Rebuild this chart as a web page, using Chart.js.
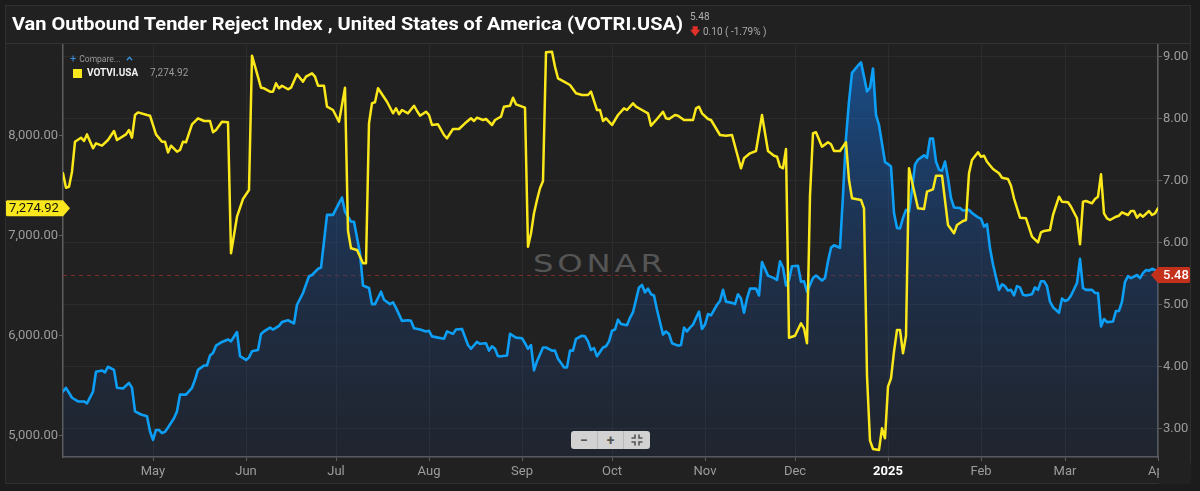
<!DOCTYPE html>
<html>
<head>
<meta charset="utf-8">
<script src="https://cdn.jsdelivr.net/npm/chart.js@4.4.1/dist/chart.umd.min.js"></script>
<style>
  html,body{margin:0;padding:0;background:#1c1c1c;width:1200px;height:491px;overflow:hidden;font-family:Roboto,"Noto Sans",sans-serif;}
  #wrap{position:relative;width:1200px;height:491px;}
  .abs{position:absolute;}
  #panel{left:5px;top:5px;width:1186px;height:479px;border:1px solid #303030;background:#212121;box-sizing:border-box;}
  #sep{left:6px;top:43px;width:1185px;height:1px;background:#333;}
  #wm{left:533px;top:247px;font-family:"DejaVu Sans",Roboto,sans-serif;font-weight:400;font-size:25px;color:#555;letter-spacing:3px;white-space:nowrap;transform-origin:0 50%;line-height:34px;}
  #cbox{left:0;top:0;width:1200px;height:491px;}
  #title{left:12px;top:12px;font-weight:700;font-size:17.5px;color:#fff;white-space:nowrap;transform-origin:0 50%;line-height:24px;}
  #chg1{left:690px;top:11px;font-size:10px;color:#b0b0b0;}
  #chg2{left:690px;top:24px;font-size:10px;color:#aaa;white-space:nowrap;}
  #chg2 b{color:#e0302a;font-weight:700;margin-right:3px;}
  #cmp{left:70px;top:52px;font-size:8.5px;color:#9a9a9a;white-space:nowrap;display:flex;align-items:center;gap:3px;height:13px;}
  #cmp .bl{color:#3a8fde;font-size:11px;}
  #sq{left:73px;top:69px;width:9px;height:9px;background:#f8e71c;}
  #lg1{left:87px;top:67px;font-size:10px;font-weight:700;color:#f2f2f2;white-space:nowrap;}
  #lg2{left:150px;top:67px;font-size:10px;color:#9a9a9a;white-space:nowrap;}
  #zc{left:571px;top:431px;width:79px;height:18px;background:#d2d2d2;border-radius:3px;display:flex;}
  #zc div{flex:1;display:flex;align-items:center;justify-content:center;color:#555;font-weight:700;font-size:14px;line-height:18px;}
  #zc div+div{border-left:1px solid #b8b8b8;}
</style>
</head>
<body>
<div id="wrap">
  <div id="panel" class="abs"></div>
  <div id="sep" class="abs"></div>
  <div id="wm" class="abs">SONAR</div>
  <div id="cbox" class="abs"><canvas id="c"></canvas></div>
  <div id="title" class="abs">Van Outbound Tender Reject Index , United States of America (VOTRI.USA)</div>
  <div id="chg1" class="abs">5.48</div>
  <div id="chg2" class="abs"><b>&#129095;</b>0.10 ( -1.79% )</div>
  <div id="cmp" class="abs"><span class="bl">+</span><span>Compare...</span>
    <svg width="7" height="5" viewBox="0 0 7 5" style="margin-left:2px"><path d="M0.8 4.2L3.5 1.3L6.2 4.2" fill="none" stroke="#3a8fde" stroke-width="1.3"/></svg></div>
  <div id="sq" class="abs"></div>
  <div id="lg1" class="abs">VOTVI.USA</div>
  <div id="lg2" class="abs">7,274.92</div>
  <div id="zc" class="abs">
    <div>&minus;</div><div>+</div>
    <div><svg width="12" height="12" viewBox="0 0 12 12" fill="none" stroke="#555" stroke-width="1.6">
      <path d="M4 0.5V4H0.5M8 0.5V4H11.5M4 11.5V8H0.5M8 11.5V8H11.5"/></svg></div>
  </div>
</div>
<script>
// ---- Data (day offsets counted from 2024-04-01) ----
const votviDays = [0,1,2,3,4,6,7,8,10,11,13,15,17,18,21,22,23,24,25,28,29,31,33,34,35,36,38,39,40,41,43,45,47,49,50,51,53,55,56,58,60,62,63,66,67,69,70,71,72,73,75,76,78,80,81,83,84,85,87,88,90,92,94,95,96,98,100,101,102,103,104,105,108,110,111,112,113,115,117,118,119,121,122,123,125,127,128,130,132,134,136,137,138,140,141,143,144,146,147,149,150,151,154,155,156,157,158,159,160,161,163,164,165,167,169,171,173,175,176,178,179,180,181,183,185,187,188,190,191,193,195,196,198,200,201,202,204,205,207,210,211,212,213,215,216,219,221,223,226,227,229,231,233,235,237,238,239,240,241,242,244,246,247,248,249,250,251,253,255,256,257,259,261,262,263,266,267,268,269,270,272,273,274,275,276,277,278,279,280,281,282,283,285,287,288,290,291,293,295,297,298,300,301,302,303,305,306,307,308,310,312,313,315,316,317,319,321,323,325,326,327,329,330,332,333,335,336,338,339,340,341,343,344,345,346,347,348,349,351,352,353,355,356,357,358,359,360,362,363,364,365];
const votviValues = [7624,7480,7490,7640,7940,7980,7947,8013,7874,7924,7900,7957,8047,7957,8013,8057,7980,8207,8233,8207,8200,8013,7940,7940,7833,7900,7840,7857,7940,7934,8114,8174,8147,8147,8034,8057,8140,8134,6824,7190,7367,7457,8800,8480,8474,8440,8440,8524,8474,8500,8464,8480,8614,8540,8590,8624,8590,8500,8500,8290,8257,8140,8480,7050,6874,6857,6724,6724,8124,8324,8334,8474,8340,8224,8274,8214,8257,8224,8300,8247,8200,8240,8207,8107,8114,8007,7974,8067,8067,8124,8174,8147,8180,8157,8167,8107,8157,8190,8290,8300,8380,8314,8280,6890,7024,7224,7357,7474,7547,8834,8840,8690,8574,8540,8507,8424,8407,8407,8440,8257,8257,8147,8174,8107,8207,8274,8257,8324,8290,8257,8224,8100,8167,8240,8174,8167,8207,8200,8157,8157,8274,8290,8224,8167,8157,8007,8000,8007,7674,7774,7824,7847,8207,7847,7800,7790,7690,7674,7867,5980,6000,6124,6074,5924,7400,8024,8034,7890,7934,7914,7847,7847,7934,7557,7374,7357,7274,5600,4950,4867,4857,5074,4974,5490,5574,5840,6057,6057,5824,6000,7674,7540,7274,7267,7440,7464,7600,7600,7107,7024,7107,7147,7157,7624,7757,7834,7790,7800,7740,7667,7624,7580,7567,7500,7374,7180,7174,6990,6934,7034,7047,7057,7207,7390,7340,7334,7290,7174,6914,7340,7347,7324,7367,7390,7614,7224,7174,7157,7190,7200,7234,7207,7247,7247,7180,7214,7190,7247,7207,7224,7274.92];

const votriDays = [0,1,3,5,7,8,10,11,13,14,15,17,18,20,22,23,24,26,28,29,30,31,32,33,34,35,37,38,39,41,43,44,45,47,48,49,50,51,53,55,56,58,59,61,62,63,65,66,67,69,70,72,73,75,77,78,80,82,83,85,86,87,88,90,92,93,94,96,97,99,100,102,103,104,106,107,109,110,111,113,115,116,117,119,121,122,123,125,127,128,130,131,133,135,136,138,139,141,142,143,144,145,146,148,149,151,153,154,155,156,157,158,160,161,163,164,165,167,168,169,170,171,173,174,175,176,177,178,180,181,182,183,184,185,186,188,189,190,192,193,194,195,196,197,198,200,201,202,203,205,206,207,208,209,210,212,213,214,215,216,218,219,220,221,223,224,225,226,227,228,229,231,232,233,235,237,238,239,240,241,242,243,245,246,247,248,250,251,253,254,255,256,257,259,260,261,262,263,265,266,267,268,269,270,271,272,273,274,275,276,277,278,279,280,281,282,283,284,285,287,288,289,290,291,292,293,294,295,296,297,299,300,302,303,305,306,307,308,309,310,312,313,314,315,316,317,318,319,320,321,323,324,325,326,327,328,329,330,332,333,334,335,336,338,339,340,341,343,344,345,346,347,348,350,351,352,353,354,355,356,358,359,360,361,362,363,364,365];
const votriValues = [3.60,3.66,3.50,3.44,3.44,3.41,3.60,3.92,3.94,3.91,4.00,3.95,3.66,3.65,3.74,3.66,3.28,3.23,3.20,2.96,2.82,2.98,2.98,2.93,2.95,3.02,3.17,3.28,3.55,3.55,3.66,3.79,3.95,4.02,4.02,4.18,4.22,4.34,4.40,4.44,4.41,4.56,4.17,4.11,4.15,4.25,4.27,4.53,4.57,4.63,4.60,4.66,4.72,4.75,4.70,5.00,5.19,5.46,5.48,5.58,5.60,6.02,6.45,6.45,6.64,6.73,6.50,6.34,6.34,5.83,5.31,5.27,5.01,5.01,5.21,5.08,5.01,5.04,4.95,4.74,4.75,4.74,4.62,4.60,4.57,4.58,4.49,4.47,4.45,4.57,4.53,4.60,4.61,4.35,4.29,4.40,4.37,4.38,4.26,4.33,4.29,4.17,4.17,4.18,4.53,4.47,4.46,4.38,4.29,4.35,3.94,4.09,4.31,4.31,4.26,4.26,4.13,3.99,3.99,4.26,4.26,4.45,4.50,4.49,4.41,4.27,4.30,4.17,4.31,4.33,4.41,4.58,4.60,4.76,4.69,4.67,4.79,4.88,5.28,5.32,5.20,5.26,5.17,5.15,4.92,4.52,4.57,4.53,4.38,4.34,4.35,4.63,4.57,4.63,4.68,4.89,4.61,4.68,4.85,4.83,5.00,5.06,5.24,5.05,5.03,5.01,5.17,5.10,4.87,5.10,5.26,5.26,5.15,5.69,5.47,5.43,5.40,5.70,5.60,5.31,5.40,5.62,5.63,5.37,5.38,5.21,5.43,5.47,5.39,5.43,5.70,5.92,5.96,5.92,6.77,7.69,8.28,8.74,8.86,8.91,8.68,8.44,8.50,8.81,8.06,7.90,7.60,7.30,7.27,7.23,6.48,6.24,6.23,6.40,6.53,6.50,6.85,7.26,7.34,7.41,7.37,7.68,7.68,7.31,7.18,7.16,7.31,7.04,6.72,6.57,6.56,6.52,6.53,6.48,6.41,6.39,6.26,6.30,5.91,5.65,5.24,5.33,5.30,5.23,5.24,5.15,5.30,5.28,5.16,5.15,5.17,5.28,5.24,5.38,5.38,5.30,5.05,4.96,4.87,5.10,5.06,5.08,5.15,5.35,5.74,5.27,5.24,5.24,5.19,5.19,4.65,4.77,4.72,4.73,4.90,4.90,5.05,5.37,5.46,5.43,5.48,5.43,5.51,5.56,5.55,5.58,5.56,5.48];

const monthTicks  = [30,61,91,122,153,183,214,244,275,306,334,365];
const monthLabels = ['May','Jun','Jul','Aug','Sep','Oct','Nov','Dec','2025','Feb','Mar','Apr'];
const leftTicks  = [5000,6000,7000,8000];
const rightTicks = [3,4,5,6,7,8,9];
const lastVotvi = 7274.92, lastVotri = 5.48;

// ---- title / watermark fit ----
(function(){
  const t=document.getElementById('title'); const w=t.getBoundingClientRect().width;
  t.style.transform='scaleX('+(671/w)+')';
  const m=document.getElementById('wm'); const w2=m.getBoundingClientRect().width-3;
  m.style.transform='scaleX('+(130/w2)+')';
})();

const BG='#212121';
const extras = {
  id:'extras',
  beforeDatasetsDraw(chart){
    const ctx=chart.ctx, a=chart.chartArea, y=chart.scales.yR.getPixelForValue(lastVotri);
    ctx.save(); ctx.strokeStyle='#7d2b22'; ctx.lineWidth=1; ctx.setLineDash([4,4]);
    ctx.beginPath(); ctx.moveTo(a.left,Math.round(y)+0.5); ctx.lineTo(a.right,Math.round(y)+0.5); ctx.stroke(); ctx.restore();
  },
  afterDraw(chart){
    const ctx=chart.ctx, a=chart.chartArea;
    ctx.save();
    ctx.fillStyle=BG; ctx.fillRect(a.right+1, a.bottom+6, 1191-a.right-1, 484-a.bottom-6);
    let y=chart.scales.yR.getPixelForValue(lastVotri);
    ctx.fillStyle='#c3311d';
    ctx.beginPath(); ctx.moveTo(a.right-7,y); ctx.lineTo(a.right,y-8); ctx.lineTo(1189,y-8); ctx.lineTo(1190,y-7);
    ctx.lineTo(1190,y+7); ctx.lineTo(1189,y+8); ctx.lineTo(a.right,y+8); ctx.closePath(); ctx.fill();
    ctx.fillStyle='#fff'; ctx.font='500 13px Roboto'; ctx.textBaseline='middle'; ctx.textAlign='left';
    ctx.fillText(lastVotri.toFixed(2), 1163, y+0.5);
    y=chart.scales.yL.getPixelForValue(lastVotvi);
    ctx.fillStyle='#f8e71c';
    ctx.beginPath(); ctx.moveTo(7,y-8); ctx.lineTo(a.left,y-8); ctx.lineTo(a.left+7,y); ctx.lineTo(a.left,y+8);
    ctx.lineTo(7,y+8); ctx.lineTo(6,y+7); ctx.lineTo(6,y-7); ctx.closePath(); ctx.fill();
    ctx.fillStyle='#111'; ctx.font='13px Roboto';
    ctx.fillText(lastVotvi.toLocaleString('en-US',{minimumFractionDigits:2}), 9, y+0.5);
    ctx.restore();
  }
};

const gridCol='#2c2c2c', axisCol='#5e5e5e', tickTxt='#9c9c9c';
new Chart(document.getElementById('c'), {
  type:'line',
  data:{datasets:[
    {label:'VOTVI.USA', yAxisID:'yL', data:votviDays.map((d,i)=>({x:d,y:votviValues[i]})),
     borderColor:'#fbe81b', borderWidth:2.5, fill:false, order:0},
    {label:'VOTRI.USA', yAxisID:'yR', data:votriDays.map((d,i)=>({x:d,y:votriValues[i]})),
     borderColor:'#0d9ff6', borderWidth:2.6, fill:'start', order:1,
     backgroundColor:(c)=>{const a=c.chart.chartArea; if(!a) return 'rgba(25,80,150,0.3)';
       const g=c.chart.ctx.createLinearGradient(0,a.top,0,a.bottom);
       g.addColorStop(0,'rgba(20,110,210,0.62)'); g.addColorStop(0.5,'rgba(25,80,160,0.35)'); g.addColorStop(1,'rgba(30,60,120,0.16)'); return g;}}
  ]},
  options:{
    responsive:true, maintainAspectRatio:false, animation:false, devicePixelRatio:1,
    layout:{padding:{top:45,left:0,right:0,bottom:0}},
    elements:{point:{radius:0}, line:{tension:0, borderJoinStyle:'round', borderCapStyle:'round'}},
    plugins:{legend:{display:false}, tooltip:{enabled:false}},
    scales:{
      x:{type:'linear', min:0, max:365,
        afterBuildTicks:(s)=>{s.ticks=monthTicks.map(v=>({value:v}));},
        afterFit:(s)=>{s.height=34;},
        grid:{color:gridCol, tickLength:4, tickColor:axisCol},
        border:{color:axisCol, width:1.5},
        ticks:{autoSkip:false, maxRotation:0, padding:3,
          callback:(v)=>{const i=monthTicks.indexOf(v); return i<0?'':monthLabels[i];},
          color:(c)=> c.tick && c.tick.value===275 ? '#ffffff' : tickTxt,
          font:(c)=> ({family:'Roboto', size:13, weight: (c.tick && c.tick.value===275)?'bold':'normal'})}},
      yL:{position:'left', min:4787, max:8907,
        afterBuildTicks:(s)=>{s.ticks=leftTicks.map(v=>({value:v}));},
        afterFit:(s)=>{s.width=63;},
        grid:{drawOnChartArea:false, tickLength:4, tickColor:axisCol},
        border:{color:axisCol, width:1.5},
        ticks:{color:tickTxt, padding:1, font:{family:'Roboto', size:13},
          callback:(v)=>v.toLocaleString('en-US',{minimumFractionDigits:2, maximumFractionDigits:2})}},
      yR:{position:'right', min:2.544, max:9.19,
        afterBuildTicks:(s)=>{s.ticks=rightTicks.map(v=>({value:v}));},
        afterFit:(s)=>{s.width=42;},
        grid:{color:gridCol, tickLength:4, tickColor:axisCol},
        border:{color:axisCol, width:1.5},
        ticks:{color:tickTxt, padding:1, font:{family:'Roboto', size:13},
          callback:(v)=>v.toFixed(2)}}
    }
  },
  plugins:[extras]
});
</script>
</body>
</html>
